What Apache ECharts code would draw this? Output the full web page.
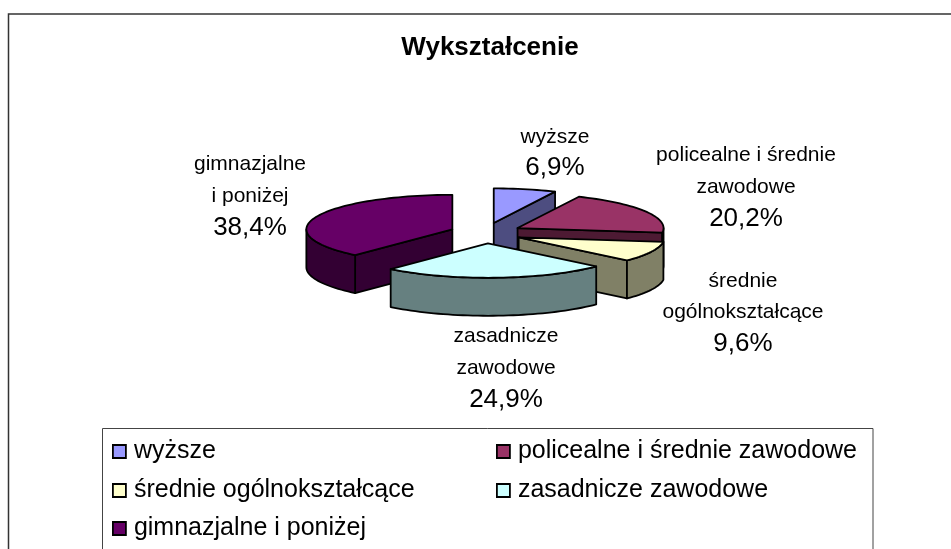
<!DOCTYPE html>
<html>
<head>
<meta charset="utf-8">
<style>
  html, body { margin: 0; padding: 0; background: #fff; }
  #chart { width: 951px; height: 549px; }
</style>
<script src="https://cdn.jsdelivr.net/npm/echarts@6/dist/echarts.min.js"></script>
</head>
<body>
<div id="chart"></div>
<script>
  const titleText = 'Wykształcenie'
  const categories = ['wyższe', 'policealne i średnie zawodowe', 'średnie ogólnokształcące', 'zasadnicze zawodowe', 'gimnazjalne i poniżej']
  const values = [6.9, 20.2, 9.6, 24.9, 38.4]
  // label text broken the way it is on the chart
  const labelLines = [['wyższe'], ['policealne i średnie', 'zawodowe'], ['średnie', 'ogólnokształcące'], ['zasadnicze', 'zawodowe'], ['gimnazjalne', 'i poniżej']]

  const topColors = ['#9999ff', '#993366', '#ffffcc', '#ccffff', '#660066']
  const wallColors = ['#4d4d80', '#4d1a33', '#808066', '#668080', '#330033']
  const drawOrder = [0, 4, 1, 2, 3] // back to front

  // pie geometry, pixels
  const cx = 486, cy = 233
  const rx = 146, ry = 34.5
  const explodeX = 36, explodeY = 10.3
  const depth = 38

  const labelPos = [[555, 152.5], [746, 187], [743, 312.5], [506, 368], [250, 196]]
  const legendPos = [[112, 439], [496, 439], [112, 478], [496, 478], [112, 516]]

  const total = values.reduce((a, b) => a + b, 0)
  const rad = (d) => d * Math.PI / 180

  function sliceAngles(idx) {
    let sum = 0
    for (let i = 0; i < idx; i++) sum += values[i]
    return [sum / total * 360, (sum + values[idx]) / total * 360]
  }

  function arcPoints(ax, ay, from, to, dy) {
    const pts = []
    const n = Math.max(2, Math.ceil((to - from) / 2))
    for (let i = 0; i <= n; i++) {
      const a = rad(from + (to - from) * i / n)
      pts.push([ax + rx * Math.sin(a), ay - ry * Math.cos(a) + dy])
    }
    return pts
  }

  function poly(points, fill) {
    return {
      type: 'polygon',
      shape: { points: points },
      style: { fill: fill, stroke: '#000', lineWidth: 1.8, lineJoin: 'round' },
    }
  }

  function sliceItem(idx) {
    const [start, end] = sliceAngles(idx)
    const mid = rad((start + end) / 2)
    const ax = cx + explodeX * Math.sin(mid)
    const ay = cy - explodeY * Math.cos(mid)
    const children = []
    const radialWall = (deg) => {
      const a = rad(deg)
      const ox = ax + rx * Math.sin(a)
      const oy = ay - ry * Math.cos(a)
      children.push(poly([[ax, ay], [ox, oy], [ox, oy + depth], [ax, ay + depth]], wallColors[idx]))
    }
    if (Math.sin(rad(start)) < 0) radialWall(start)
    if (Math.sin(rad(end)) > 0.001) radialWall(end)
    // only the part of the rim that faces the viewer
    const wallFrom = Math.max(start, 90)
    const wallTo = Math.min(end, 270)
    if (wallTo > wallFrom) {
      const upper = arcPoints(ax, ay, wallFrom, wallTo, 0)
      const lower = arcPoints(ax, ay, wallFrom, wallTo, depth).reverse()
      children.push(poly(upper.concat(lower), wallColors[idx]))
    }
    children.push(poly([[ax, ay]].concat(arcPoints(ax, ay, start, end, 0)), topColors[idx]))
    return { type: 'group', children: children }
  }

  function pctText(v) {
    return v.toFixed(1).replace('.', ',') + '%'
  }

  const seriesList = drawOrder.map((idx, order) => ({
    name: categories[idx],
    type: 'custom',
    coordinateSystem: 'none',
    z: 2 + order,
    itemStyle: { color: topColors[idx] },
    data: [values[idx]],
    renderItem: () => sliceItem(idx),
    silent: true,
  }))

  const labelSeries = {
    type: 'custom',
    coordinateSystem: 'none',
    z: 10,
    silent: true,
    data: values,
    renderItem: (params) => {
      const i = params.dataIndex
      const names = labelLines[i].map((t) => '{n|' + t + '}').join('\n')
      return {
        type: 'text',
        x: labelPos[i][0],
        y: labelPos[i][1],
        style: {
          text: names + '\n{v|' + pctText(values[i]) + '}',
          align: 'center',
          verticalAlign: 'middle',
          fill: '#000',
          rich: {
            n: { fontFamily: 'Liberation Sans', fontSize: 21, lineHeight: 31.5, fill: '#000' },
            v: { fontFamily: 'Liberation Sans', fontSize: 26, lineHeight: 31.5, fill: '#000' },
          },
        },
      }
    },
  }

  const chart = echarts.init(document.getElementById('chart'), null, { renderer: 'canvas' })
  chart.setOption({
    animation: false,
    backgroundColor: '#fff',
    title: {
      text: titleText,
      left: 485,
      top: 30,
      textAlign: 'center',
      textStyle: { fontFamily: 'Liberation Sans', fontWeight: 'bold', fontSize: 26, color: '#000' },
    },
    legend: categories.map((name, i) => ({
      data: [name],
      left: legendPos[i][0],
      top: legendPos[i][1],
      padding: 0,
      icon: 'rect',
      itemWidth: 13,
      itemHeight: 13,
      selectedMode: false,
      itemStyle: { borderColor: '#000', borderWidth: 1.8 },
      textStyle: { fontFamily: 'Liberation Sans', fontSize: 25, color: '#000', padding: [0, 0, 0, 3] },
    })),
    graphic: [
      { type: 'polyline', z: 0, shape: { points: [[8.5, 549], [8.5, 14], [951, 14]] }, style: { fill: null, stroke: '#333', lineWidth: 1.5 } },
      { type: 'polyline', z: 0, shape: { points: [[102.5, 549], [102.5, 428.5], [873, 428.5], [873, 549]] }, style: { fill: null, stroke: '#444', lineWidth: 1 } },
    ],
    series: seriesList.concat([labelSeries]),
  })
</script>
</body>
</html>
